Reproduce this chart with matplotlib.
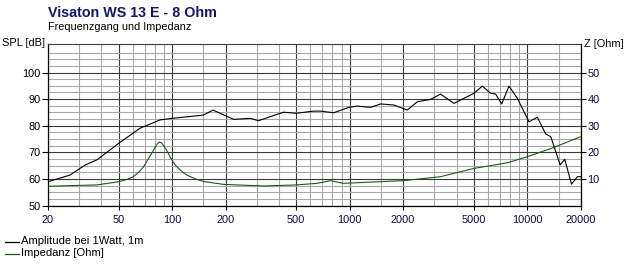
import matplotlib
matplotlib.use('Agg')
import matplotlib.pyplot as plt
from matplotlib.lines import Line2D

plt.rcParams['font.family'] = ['Liberation Sans', 'DejaVu Sans']

# ---- data ----
spl_freq = [20, 26.6, 32.4, 37.7, 50, 66, 85.6, 100, 150, 170, 222, 276, 306, 424,
            500, 626, 683, 813, 988, 1102, 1310, 1492, 1772, 2110, 2402, 2855, 3250,
            3864, 4398, 5010, 5586, 6222, 6640, 7180, 7890, 8800, 10230, 11400, 12710,
            13560, 14480, 15310, 16260, 17750, 19180, 20000]
spl_db = [59.0, 61.5, 65.3, 67.2, 73.4, 79.1, 82.2, 82.8, 84.0, 85.9, 82.4, 82.8, 81.9, 85.1,
          84.7, 85.5, 85.5, 84.9, 86.9, 87.4, 86.9, 88.2, 87.8, 85.9, 89.0, 89.9, 91.9,
          88.4, 90.3, 92.2, 94.9, 92.2, 91.9, 88.2, 94.9, 90.3, 81.5, 83.2, 76.9,
          75.9, 70.3, 65.3, 67.4, 58.1, 60.9, 60.9]

imp_freq = [20, 37.7, 50, 56, 60.5, 65, 69, 72, 76.8, 80, 82.5, 84.8, 87, 89.5, 93.4, 98,
            104, 112, 121, 135, 150, 195, 328, 500, 656, 778, 920, 2012, 3250, 5010,
            7730, 10020, 14160, 20000]
imp_ohm = [7.3, 7.8, 9.0, 9.9, 10.9, 12.6, 14.6, 16.6, 19.7, 21.8, 23.2, 23.9, 23.6, 22.6,
           20.7, 18.0, 15.3, 13.2, 11.5, 10.1, 9.1, 8.0, 7.4, 7.8, 8.4, 9.4, 8.4, 9.4,
           10.9, 14.0, 16.1, 18.4, 21.9, 25.9]

x_major = [20, 50, 100, 200, 500, 1000, 2000, 5000, 10000, 20000]
x_labels = ['20', '50', '100', '200', '500', '1000', '2000', '5000', '10000', '20000']
x_minor = [30, 40, 60, 70, 80, 90, 150, 300, 400, 600, 700, 800, 900, 1500,
           3000, 4000, 6000, 7000, 8000, 9000, 15000]
spl_ticks = [50, 60, 70, 80, 90, 100]
z_ticks = [10, 20, 30, 40, 50]

title = 'Visaton WS 13 E - 8 Ohm'
subtitle = 'Frequenzgang und Impedanz'
legend_labels = ['Amplitude bei 1Watt, 1m', 'Impedanz [Ohm]']

spl_color = '#000000'
imp_color = '#1a5a1a'

W, H = 629, 273
fig = plt.figure(figsize=(W / 100, H / 100), dpi=100)
x0, x1, y0, y1 = 48, 580.7, 44, 205.7
ax = fig.add_axes([x0 / W, 1 - y1 / H, (x1 - x0) / W, (y1 - y0) / H])

ax.set_xscale('log')
ax.set_xlim(20, 20000)
ax.set_ylim(50, 110.7)

ax.set_xticks(x_major)
ax.set_xticklabels(x_labels)
ax.set_xticks(x_minor, minor=True)
ax.set_xticklabels([], minor=True)
ax.set_yticks(spl_ticks)
ax.set_yticklabels([str(v) for v in spl_ticks])
y_minor = [50 + 2.5 * i for i in range(1, 25) if (2.5 * i) % 10 != 0]
ax.set_yticks(y_minor, minor=True)
ax.set_yticklabels([], minor=True)

ax.grid(which='minor', color='#a8a8a8', lw=0.8)
ax.grid(which='major', color='#3a3a3a', lw=0.8)
ax.set_axisbelow(True)

ax.tick_params(axis='x', which='major', length=3, width=0.8, pad=3.5,
               labelsize=7.9, colors='#000000', labelcolor='#0a0a50')
ax.tick_params(axis='x', which='minor', length=0)
ax.tick_params(axis='y', which='major', length=4.5, width=0.8, pad=1,
               labelsize=7.9, colors='#000000')
ax.tick_params(axis='y', which='minor', length=0)

for s in ['left', 'bottom', 'right']:
    ax.spines[s].set_color('#000000')
    ax.spines[s].set_linewidth(0.9)
ax.spines['top'].set_color('#3a3a3a')
ax.spines['top'].set_linewidth(0.8)

ax.plot(spl_freq, spl_db, color=spl_color, lw=0.8, zorder=3)

ax2 = ax.twinx()
ax2.set_ylim(0, 60.7)
ax2.set_yticks(z_ticks)
ax2.set_yticklabels([str(v) for v in z_ticks])
ax2.tick_params(axis='y', length=3.5, width=0.8, pad=1.5, labelsize=7.9,
                colors='#000000', labelcolor='#0a0a40')
for s in ax2.spines.values():
    s.set_visible(False)
ax2.plot(imp_freq, imp_ohm, color=imp_color, lw=0.8, zorder=3)

# titles / axis names
fig.text(x0 / W, 1 - 16.7 / H, title, fontsize=10.3, fontweight='bold',
         color='#15156e', va='baseline', ha='left')
fig.text(x0 / W, 1 - 30 / H, subtitle, fontsize=7.8, color='#000000',
         va='baseline', ha='left')
fig.text(2 / W, 1 - 43.5 / H, 'SPL [dB]', fontsize=7.9, va='center', ha='left')
fig.text(584 / W, 1 - 44 / H, 'Z [Ohm]', fontsize=7.9, va='center', ha='left')

# legend
for i, (lab, col) in enumerate(zip(legend_labels, [spl_color, imp_color])):
    yy = 1 - (241.5 + 12 * i) / H
    fig.add_artist(Line2D([5 / W, 19 / W], [yy, yy], color=col, lw=0.9))
    fig.text(21 / W, yy, lab, fontsize=8.1, va='center', ha='left')

fig.savefig('out.png', dpi=100, facecolor='white')
